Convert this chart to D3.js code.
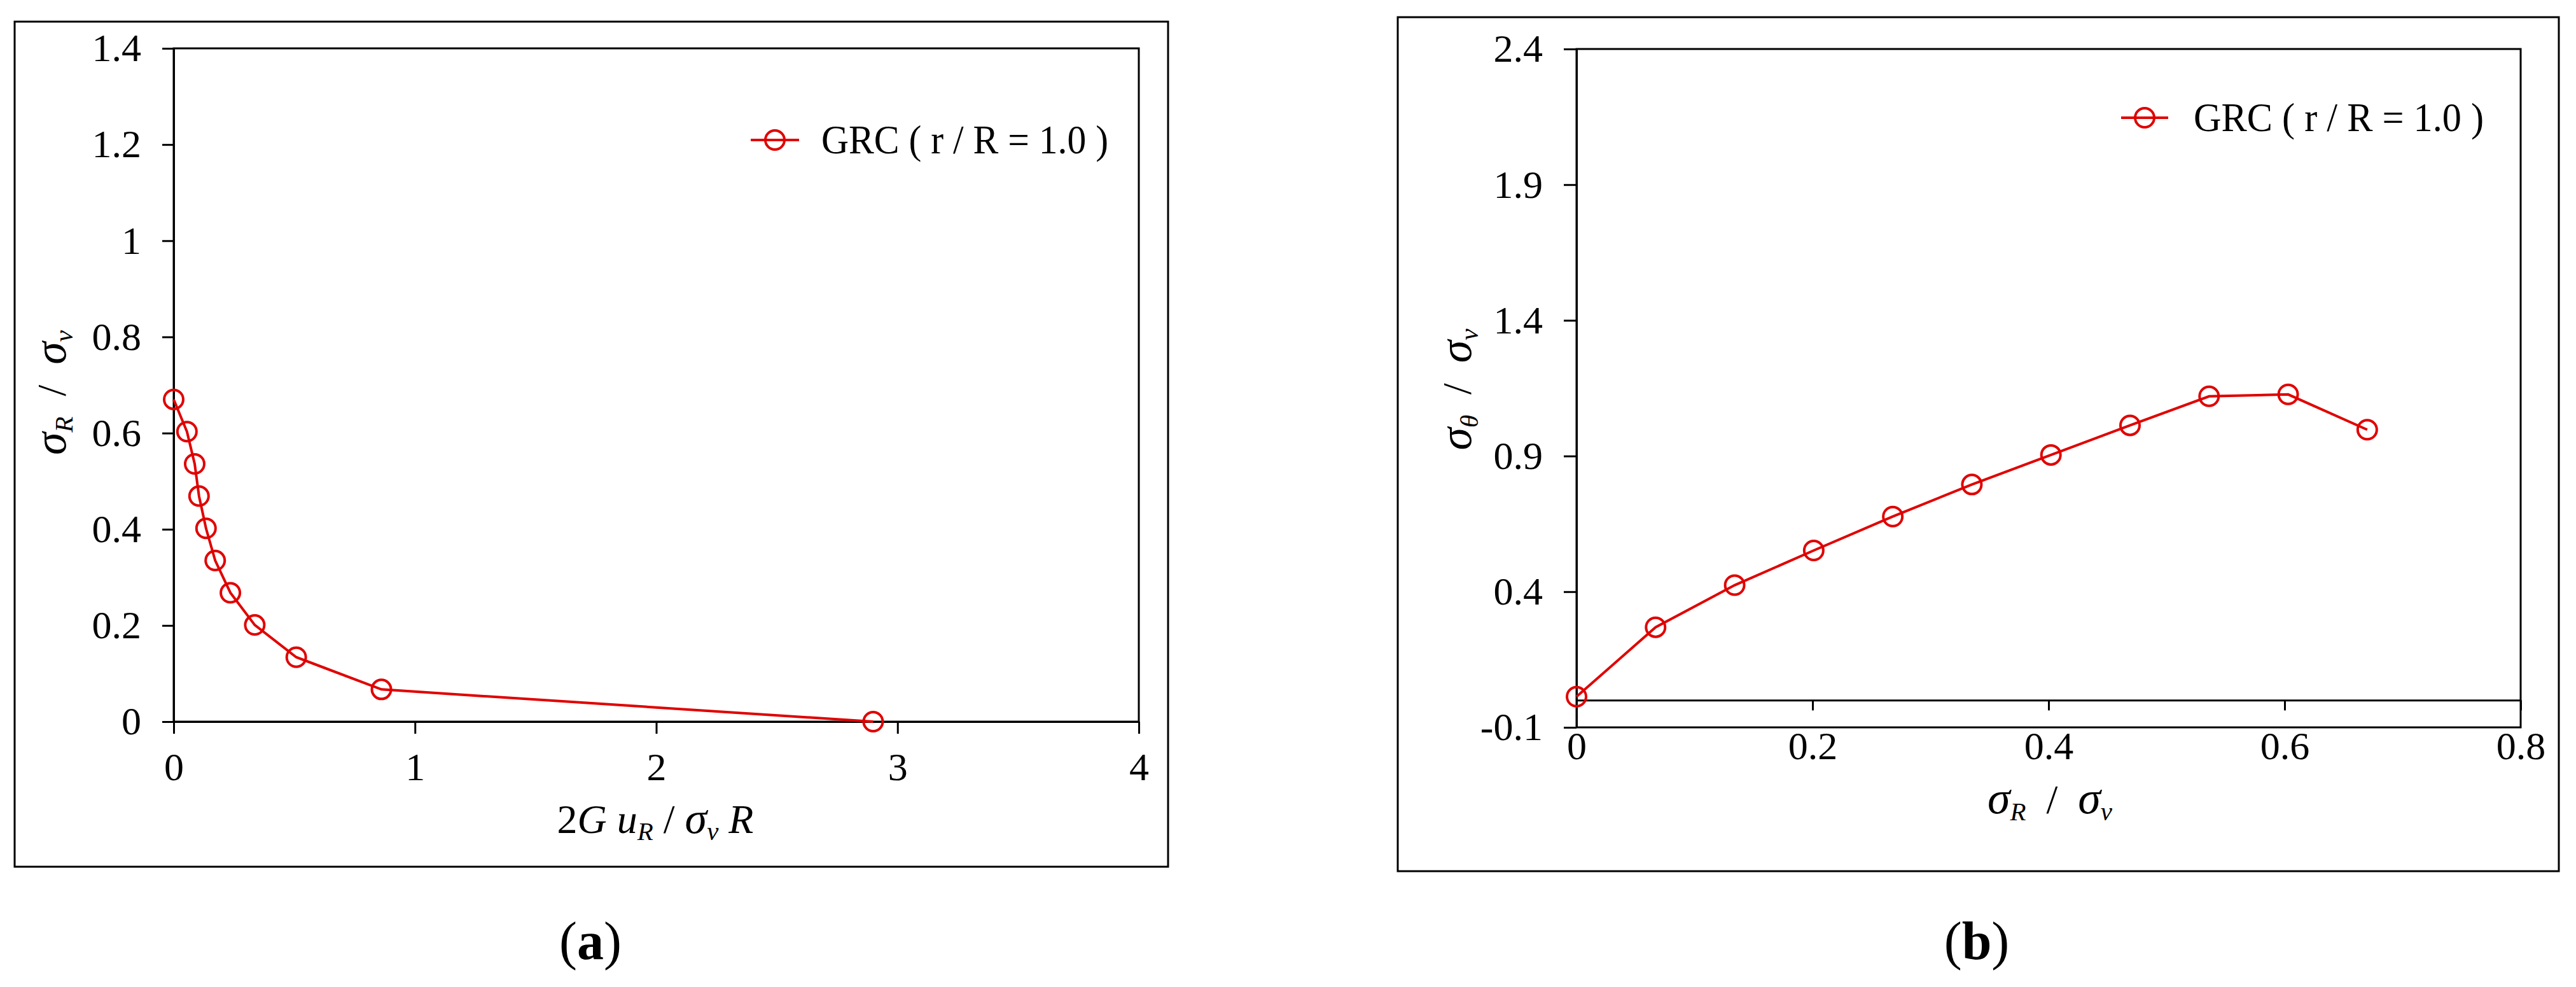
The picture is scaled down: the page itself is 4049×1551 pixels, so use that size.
<!DOCTYPE html>
<html><head><meta charset="utf-8">
<script src="https://cdn.jsdelivr.net/npm/d3@7"></script>
<style>
html,body{margin:0;padding:0;background:#fff;}
svg{display:block;}
text{font-family:"Liberation Serif","Times New Roman",serif;fill:#000;}
</style></head><body>
<svg id="chart" width="4049" height="1551" font-family="Liberation Serif, Times New Roman, serif"></svg>
<script>
// ---- data ----
// Panel (a): ground reaction curve
const displacementA = [0, 0.055, 0.087, 0.105, 0.134, 0.172, 0.235, 0.336, 0.508, 0.861, 2.899];
const radialStressA = [0.670, 0.603, 0.536, 0.469, 0.402, 0.335, 0.268, 0.201, 0.134, 0.067, 0];
// Panel (b): hoop stress vs radial stress
const radialStressB = [0, 0.067, 0.134, 0.201, 0.268, 0.335, 0.402, 0.469, 0.536, 0.603, 0.670];
const hoopStressB   = [0.013, 0.269, 0.424, 0.552, 0.677, 0.795, 0.904, 1.013, 1.120, 1.127, 0.997];
const xTicksA = [0, 1, 2, 3, 4];
const yTicksA = [0, 0.2, 0.4, 0.6, 0.8, 1, 1.2, 1.4];
const xTicksB = [0, 0.2, 0.4, 0.6, 0.8];
const yTicksB = [-0.1, 0.4, 0.9, 1.4, 1.9, 2.4];
const seriesName = "GRC ( r / R = 1.0 )";
const captions = ["a", "b"];

const RED = "#e00000";
const FONT = 62;
const SERIF = '"Liberation Serif","Times New Roman",serif';
const svg = d3.select("#chart");
const fmt = d => String(+(+d).toFixed(1));

function styleAxis(g) {
  g.attr("font-family", SERIF).attr("font-size", FONT);
  g.selectAll("path.domain").attr("stroke", "#000").attr("stroke-width", 3);
  g.selectAll(".tick line").attr("stroke", "#000").attr("stroke-width", 3);
  g.selectAll(".tick text").attr("font-size", FONT).attr("fill", "#000")
    .attr("font-family", SERIF).style("font-family", SERIF);
}

function drawSeries(g, xs, ys, x, y) {
  const pts = xs.map((v, i) => [v, ys[i]]);
  g.append("path").datum(pts)
    .attr("d", d3.line().x(d => x(d[0])).y(d => y(d[1])))
    .attr("fill", "none").attr("stroke", RED).attr("stroke-width", 4);
  g.selectAll("circle.m").data(pts).join("circle").attr("class", "m")
    .attr("cx", d => x(d[0])).attr("cy", d => y(d[1])).attr("r", 15)
    .attr("fill", "none").attr("stroke", RED).attr("stroke-width", 4);
}

function legend(x0, x1, cy, tx, tlen) {
  const g = svg.append("g");
  g.append("line").attr("x1", x0).attr("x2", x1).attr("y1", cy).attr("y2", cy)
    .attr("stroke", RED).attr("stroke-width", 4);
  g.append("circle").attr("cx", (x0 + x1) / 2).attr("cy", cy).attr("r", 15)
    .attr("fill", "none").attr("stroke", RED).attr("stroke-width", 4);
  g.append("text").attr("x", tx).attr("y", cy + 21).attr("font-size", 63)
    .attr("font-family", SERIF)
    .attr("textLength", tlen).attr("lengthAdjust", "spacingAndGlyphs").text(seriesName);
}

function caption(cx, letter) {
  const t = svg.append("text").attr("x", cx).attr("y", 1507).attr("text-anchor", "middle")
    .attr("font-family", SERIF).attr("font-size", 84);
  t.append("tspan").text("(");
  t.append("tspan").attr("font-weight", "bold").text(letter);
  t.append("tspan").text(")");
}

// helper for mixed labels: parts = [text, italic, sub, sizeOverride]
function richLabel(parent, parts, size) {
  let shift = 0;
  parts.forEach(p => {
    const [txt, ital, sub, big] = p;
    const ts = parent.append("tspan").text(txt);
    if (ital) ts.attr("font-style", "italic");
    const target = sub ? 11 : 0;
    if (target !== shift) { ts.attr("dy", target - shift); shift = target; }
    ts.attr("font-size", big ? big : (sub ? size * 0.64 : size));
  });
}
const NB = "\u00a0";

// ================= Panel (a) =================
svg.append("rect").attr("x", 23).attr("y", 34).attr("width", 1813).attr("height", 1328)
  .attr("fill", "none").attr("stroke", "#000").attr("stroke-width", 3);

const xA = d3.scaleLinear().domain([0, 4]).range([273, 1790]);
const yA = d3.scaleLinear().domain([0, 1.4]).range([1134, 76]);

svg.append("rect").attr("x", xA(0)).attr("y", yA(1.4)).attr("width", xA(4) - xA(0))
  .attr("height", yA(0) - yA(1.4)).attr("fill", "none").attr("stroke", "#000").attr("stroke-width", 3);

svg.append("g").attr("transform", `translate(${xA(0)},0)`)
  .call(d3.axisLeft(yA).tickValues(yTicksA).tickFormat(fmt).tickSize(18).tickSizeOuter(0).tickPadding(33))
  .call(styleAxis);
svg.append("g").attr("transform", `translate(0,${yA(0)})`)
  .call(d3.axisBottom(xA).tickValues(xTicksA).tickFormat(fmt).tickSize(19).tickSizeOuter(0).tickPadding(29))
  .call(styleAxis);

drawSeries(svg.append("g"), displacementA, radialStressA, xA, yA);
legend(1180, 1256, 220, 1291, 451);

// axis titles (a)
{
  const t = svg.append("text").attr("x", 1030).attr("y", 1309).attr("text-anchor", "middle")
    .attr("font-family", SERIF).attr("font-size", 64);
  richLabel(t, [["2", false, false], ["G" + NB, true, false], ["u", true, false], ["R", true, true],
    [NB + "/" + NB, false, false], ["σ", true, false, 70], ["v", true, true], [NB + "R", true, false]], 64);
  const ty = svg.append("text").attr("transform", "translate(103,617) rotate(-90)")
    .attr("text-anchor", "middle").attr("font-family", SERIF).attr("font-size", 64);
  richLabel(ty, [["σ", true, false, 72], ["R", true, true], [NB + NB + "/" + NB + NB, false, false],
    ["σ", true, false, 72], ["v", true, true]], 64);
}
caption(928, captions[0]);

// ================= Panel (b) =================
svg.append("rect").attr("x", 2197).attr("y", 27).attr("width", 1825).attr("height", 1342)
  .attr("fill", "none").attr("stroke", "#000").attr("stroke-width", 3);

const xB = d3.scaleLinear().domain([0, 0.8]).range([2478, 3962]);
const yB = d3.scaleLinear().domain([-0.1, 2.4]).range([1143, 77]);

svg.append("rect").attr("x", xB(0)).attr("y", yB(2.4)).attr("width", xB(0.8) - xB(0))
  .attr("height", yB(-0.1) - yB(2.4)).attr("fill", "none").attr("stroke", "#000").attr("stroke-width", 3);

svg.append("g").attr("transform", `translate(${xB(0)},0)`)
  .call(d3.axisLeft(yB).tickValues(yTicksB).tickFormat(fmt).tickSize(20).tickSizeOuter(0).tickPadding(33))
  .call(styleAxis);
// zero line with hanging ticks
svg.append("g").attr("transform", `translate(0,${yB(0)})`)
  .call(d3.axisBottom(xB).tickValues(xTicksB).tickFormat("").tickSize(16).tickSizeOuter(0))
  .call(styleAxis);
// tick labels below the frame bottom
svg.append("g").attr("transform", `translate(0,${yB(-0.1)})`)
  .call(d3.axisBottom(xB).tickValues(xTicksB).tickFormat(fmt).tickSize(0).tickSizeOuter(0).tickPadding(6))
  .call(styleAxis)
  .call(g => g.select(".domain").remove());

drawSeries(svg.append("g"), radialStressB, hoopStressB, xB, yB);
legend(3334, 3408, 185, 3448, 456);

{
  const t = svg.append("text").attr("x", 3222).attr("y", 1278).attr("text-anchor", "middle")
    .attr("font-family", SERIF).attr("font-size", 64);
  richLabel(t, [["σ", true, false, 72], ["R", true, true], [NB + NB + "/" + NB + NB, false, false],
    ["σ", true, false, 72], ["v", true, true]], 64);
  const ty = svg.append("text").attr("transform", "translate(2312,612) rotate(-90)")
    .attr("text-anchor", "middle").attr("font-family", SERIF).attr("font-size", 64);
  richLabel(ty, [["σ", true, false, 72], ["θ", true, true], [NB + NB + "/" + NB + NB, false, false],
    ["σ", true, false, 72], ["v", true, true]], 64);
}
caption(3107, captions[1]);
</script>
</body></html>
